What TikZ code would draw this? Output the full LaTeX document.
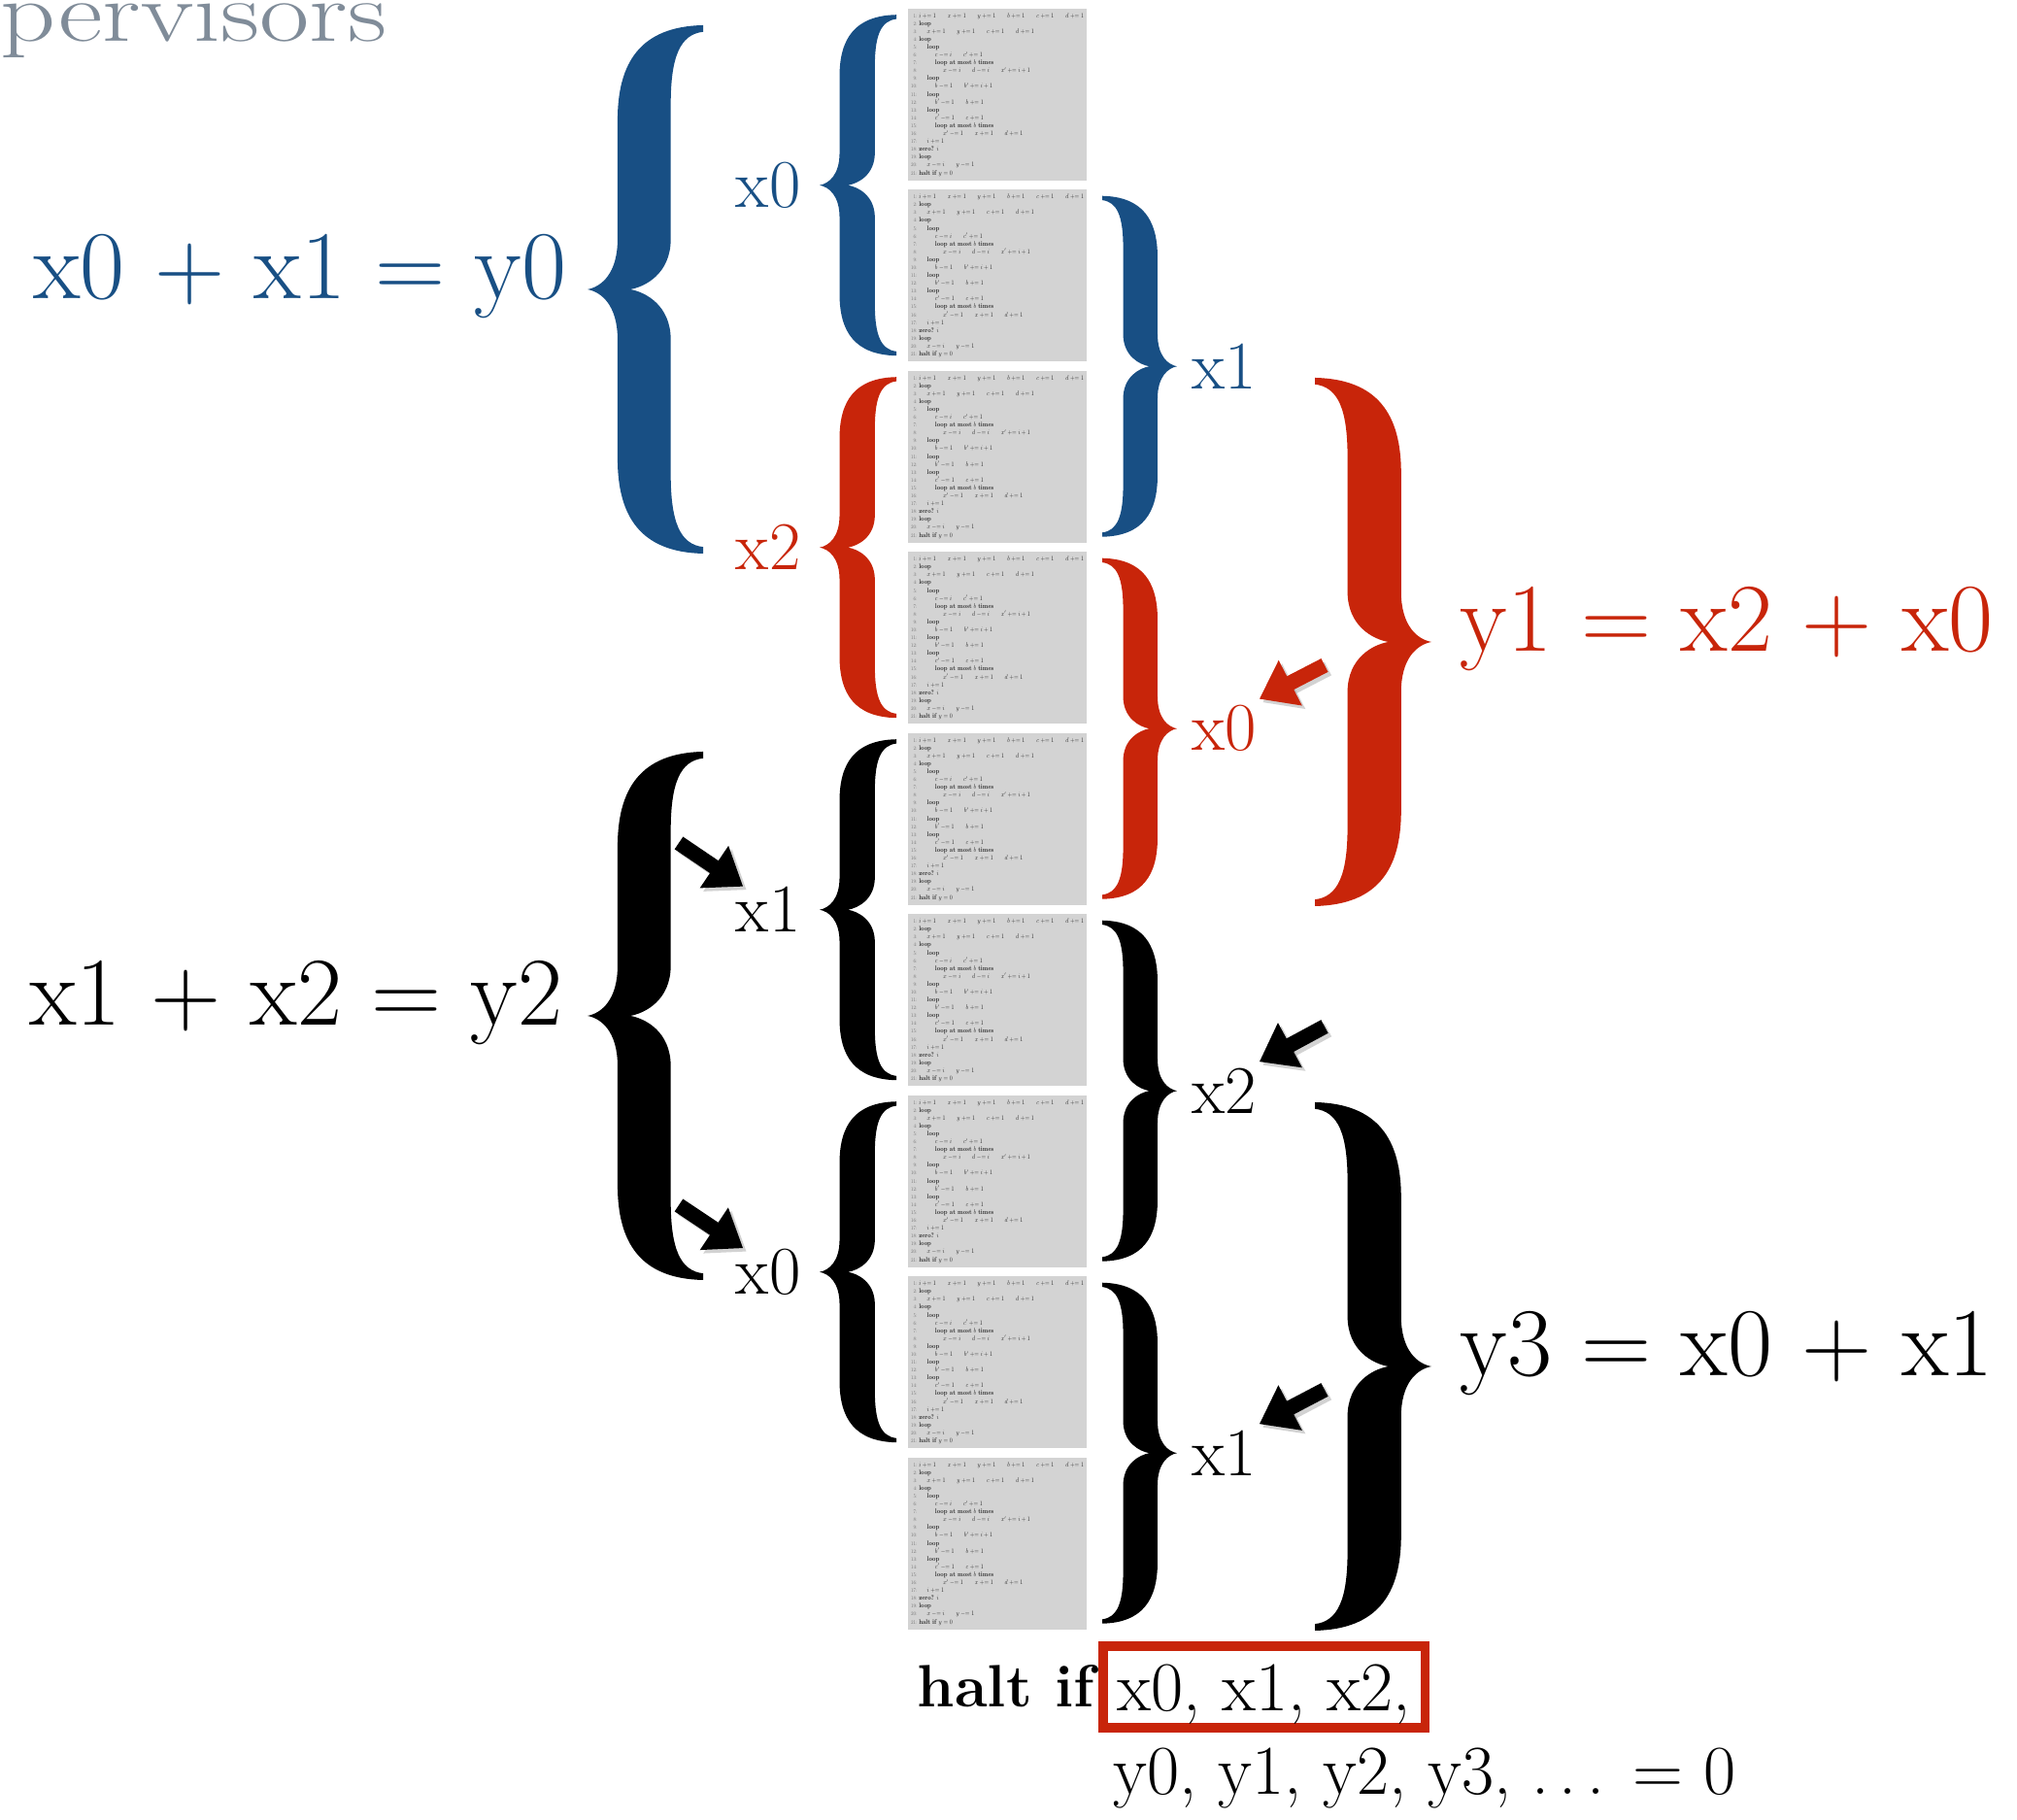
\documentclass[tikz,border=0pt]{standalone}
\usepackage{graphicx}
\usepackage{amsmath}
\usetikzlibrary{arrows.meta}
\usetikzlibrary{shadows}

\definecolor{eqblue}{RGB}{24,79,132}
\definecolor{eqred}{RGB}{200,37,10}
\definecolor{headgrey}{RGB}{128,140,153}
\definecolor{codebg}{RGB}{211,211,211}

\newcommand{\inc}{\mathrel{+}=}
\newcommand{\dec}{\mathrel{-}=}
\newcommand{\kw}[1]{\textbf{#1}}
\newcommand{\lnum}[1]{{\color{black!55}\footnotesize #1:}}
\newcommand{\ind}{\hspace*{1.4em}}
\newcommand{\widedots}{.\kern0.14em.\kern0.14em.}
\newsavebox{\progbox}

\tikzset{
  % one curly brace, tip at the origin, arms at x=1, from y=-1 to y=1
  pics/curly/.style={code={
    \fill[pic actions] (0,0) .. controls (0.12,0.01) and (0.26,0.06) .. (0.26,0.19)
      -- (0.26,0.64) .. controls (0.26,0.86) and (0.46,0.995) .. (1,1)
      -- (1,0.975) .. controls (0.80,0.965) and (0.72,0.88) .. (0.72,0.70)
      -- (0.72,0.19) .. controls (0.72,0.06) and (0.50,0.01) .. (0.37,0)
      .. controls (0.50,-0.01) and (0.72,-0.06) .. (0.72,-0.19)
      -- (0.72,-0.70) .. controls (0.72,-0.88) and (0.80,-0.965) .. (1,-0.975)
      -- (1,-1) .. controls (0.46,-0.995) and (0.26,-0.86) .. (0.26,-0.64)
      -- (0.26,-0.19) .. controls (0.26,-0.06) and (0.12,-0.01) .. (0,0) -- cycle;
  }},
  codebox/.style={fill=codebg, minimum width=1.84cm, minimum height=1.77cm, inner sep=0pt},
  eqlabel/.style={inner sep=0pt, font=\fontsize{28.5}{32}\selectfont},
  varlabel/.style={inner sep=0pt, font=\fontsize{20}{24}\selectfont},
  pointer/.style={line width=4.4pt, -{Triangle[length=0.36cm,width=0.50cm]}},
  pointershade/.style={pointer, draw=black!35, opacity=0.5, transform canvas={shift={(0.035,-0.035)}}},
  zerobox/.style={draw=eqred, line width=2.8pt, fill=white, text height=0.62cm, text depth=0.12cm,
    inner xsep=0.15cm, inner ysep=0.05cm,
    drop shadow={opacity=0.3, shadow xshift=0.04cm, shadow yshift=-0.04cm}},
}

\begin{document}
\sbox{\progbox}{\resizebox*{1.78cm}{1.70cm}{\color{black!85}%
\begin{tabular}{@{}r@{\hspace{3pt}}l@{}}
\lnum{1} & $i \inc 1 \qquad x \inc 1 \qquad y \inc 1 \qquad b \inc 1 \qquad c \inc 1 \qquad d \inc 1$\\
\lnum{2} & \kw{loop}\\
\lnum{3} & \ind $x \inc 1 \qquad y \inc 1 \qquad c \inc 1 \qquad d \inc 1$\\
\lnum{4} & \kw{loop}\\
\lnum{5} & \ind \kw{loop}\\
\lnum{6} & \ind\ind $c \dec i \qquad c' \inc 1$\\
\lnum{7} & \ind\ind \kw{loop at most} $b$ \kw{times}\\
\lnum{8} & \ind\ind\ind $x \dec i \qquad d \dec i \qquad x' \inc i+1$\\
\lnum{9} & \ind \kw{loop}\\
\lnum{10} & \ind\ind $b \dec 1 \qquad b' \inc i+1$\\
\lnum{11} & \ind \kw{loop}\\
\lnum{12} & \ind\ind $b' \dec 1 \qquad b \inc 1$\\
\lnum{13} & \ind \kw{loop}\\
\lnum{14} & \ind\ind $c' \dec 1 \qquad c \inc 1$\\
\lnum{15} & \ind\ind \kw{loop at most} $b$ \kw{times}\\
\lnum{16} & \ind\ind\ind $x' \dec 1 \qquad x \inc 1 \qquad d \inc 1$\\
\lnum{17} & \ind $i \inc 1$\\
\lnum{18} & \kw{zero?} $i$\\
\lnum{19} & \kw{loop}\\
\lnum{20} & \ind $x \dec i \qquad y \dec 1$\\
\lnum{21} & \kw{halt if} $y = 0$
\end{tabular}}}%
\begin{tikzpicture}
\useasboundingbox (0,0) rectangle (20.77,18.74);
\clip (0,0) rectangle (20.77,18.74);

% Drawing the cut heading
\node[anchor=base west, inner sep=0pt, text=headgrey, font=\fontsize{25}{28}\selectfont] (head) at (0,18.31) {\scalebox{1.27}[1]{pervisors}};

% Drawing the program copies
\node[codebox] (p1) at (10.27,17.765) {\usebox{\progbox}};
\node[codebox] (p2) at (10.27,15.900) {\usebox{\progbox}};
\node[codebox] (p3) at (10.27,14.035) {\usebox{\progbox}};
\node[codebox] (p4) at (10.27,12.170) {\usebox{\progbox}};
\node[codebox] (p5) at (10.27,10.305) {\usebox{\progbox}};
\node[codebox] (p6) at (10.27,8.440) {\usebox{\progbox}};
\node[codebox] (p7) at (10.27,6.575) {\usebox{\progbox}};
\node[codebox] (p8) at (10.27,4.710) {\usebox{\progbox}};
\node[codebox] (p9) at (10.27,2.845) {\usebox{\progbox}};

% Drawing blue braces: y0 = x0 + x1
\pic[fill=eqblue, xscale=1.19, yscale=2.72] at (6.05,15.76) {curly};
\pic[fill=eqblue, xscale=0.79, yscale=1.755] at (8.44,16.8325) {curly};
\pic[fill=eqblue, xscale=-0.77, yscale=1.755] at (12.12,14.9675) {curly};
\node[eqlabel, anchor=base east, text=eqblue] (eqa) at (5.84,15.66) {x0 + x1 = y0};
\node[varlabel, anchor=east, text=eqblue] (vx0top) at (8.25,16.8325) {x0};
\node[varlabel, anchor=west, text=eqblue] (vx1top) at (12.27,14.9675) {x1};

% Drawing red braces: y1 = x2 + x0
\pic[fill=eqred, xscale=0.79, yscale=1.755] at (8.44,13.1025) {curly};
\pic[fill=eqred, xscale=-0.77, yscale=1.755] at (12.12,11.2375) {curly};
\pic[fill=eqred, xscale=-1.20, yscale=2.72] at (14.74,12.13) {curly};
\node[eqlabel, anchor=base west, text=eqred] (eqb) at (15.03,12.03) {y1 = x2 + x0};
\node[varlabel, anchor=east, text=eqred] (vx2mid) at (8.25,13.1025) {x2};
\node[varlabel, anchor=west, text=eqred] (vx0mid) at (12.27,11.2375) {x0};

% Drawing black braces: y2 = x1 + x2 and y3 = x0 + x1
\pic[fill=black, xscale=1.19, yscale=2.72] at (6.05,8.28) {curly};
\pic[fill=black, xscale=0.79, yscale=1.755] at (8.44,9.3725) {curly};
\pic[fill=black, xscale=0.79, yscale=1.755] at (8.44,5.6425) {curly};
\pic[fill=black, xscale=-0.77, yscale=1.755] at (12.12,7.5075) {curly};
\pic[fill=black, xscale=-0.77, yscale=1.755] at (12.12,3.7775) {curly};
\pic[fill=black, xscale=-1.20, yscale=2.72] at (14.74,4.67) {curly};
\node[eqlabel, anchor=base east] (eqc) at (5.80,8.18) {x1 + x2 = y2};
\node[eqlabel, anchor=base west] (eqd) at (15.03,4.57) {y3 = x0 + x1};
\node[varlabel, anchor=east] (vx1low) at (8.25,9.3725) {x1};
\node[varlabel, anchor=east] (vx0low) at (8.25,5.6425) {x0};
\node[varlabel, anchor=west] (vx2low) at (12.27,7.5075) {x2};
\node[varlabel, anchor=west] (vx1bot) at (12.27,3.7775) {x1};

% Drawing the pointers
\coordinate (tr1) at (13.64,11.89);
\coordinate (tr2) at (13.64,8.17);
\coordinate (tr3) at (13.64,4.43);
\coordinate (tl1) at (6.99,10.06);
\coordinate (tl2) at (6.99,6.33);
\draw[pointershade] (tr1) -- ([shift={(0.02,0.06)}]vx0mid.north east);
\draw[pointershade] (tr2) -- ([shift={(0.02,0.06)}]vx2low.north east);
\draw[pointershade] (tr3) -- ([shift={(0.02,0.06)}]vx1bot.north east);
\draw[pointershade] (tl1) -- ([shift={(0.08,0)}]vx1low.north west);
\draw[pointershade] (tl2) -- ([shift={(0.08,0)}]vx0low.north west);
\draw[pointer, draw=eqred] (tr1) -- ([shift={(0.02,0.06)}]vx0mid.north east);
\draw[pointer] (tr2) -- ([shift={(0.02,0.06)}]vx2low.north east);
\draw[pointer] (tr3) -- ([shift={(0.02,0.06)}]vx1bot.north east);
\draw[pointer] (tl1) -- ([shift={(0.08,0)}]vx1low.north west);
\draw[pointer] (tl2) -- ([shift={(0.08,0)}]vx0low.north west);

% Drawing the halting condition
\node[anchor=base west, inner sep=0pt, font=\fontsize{17.5}{21}\selectfont\bfseries] (halt) at (9.44,1.16) {halt if};
\node[zerobox, anchor=base west, font=\fontsize{20.5}{24}\selectfont] (zeros) at (11.31,1.12) {x0, x1, x2,};
\node[varlabel, anchor=base west, font=\fontsize{20.5}{24}\selectfont] (rest) at (11.46,0.26) {y0, y1, y2, y3, \widedots{} = 0};
\end{tikzpicture}
\end{document}
